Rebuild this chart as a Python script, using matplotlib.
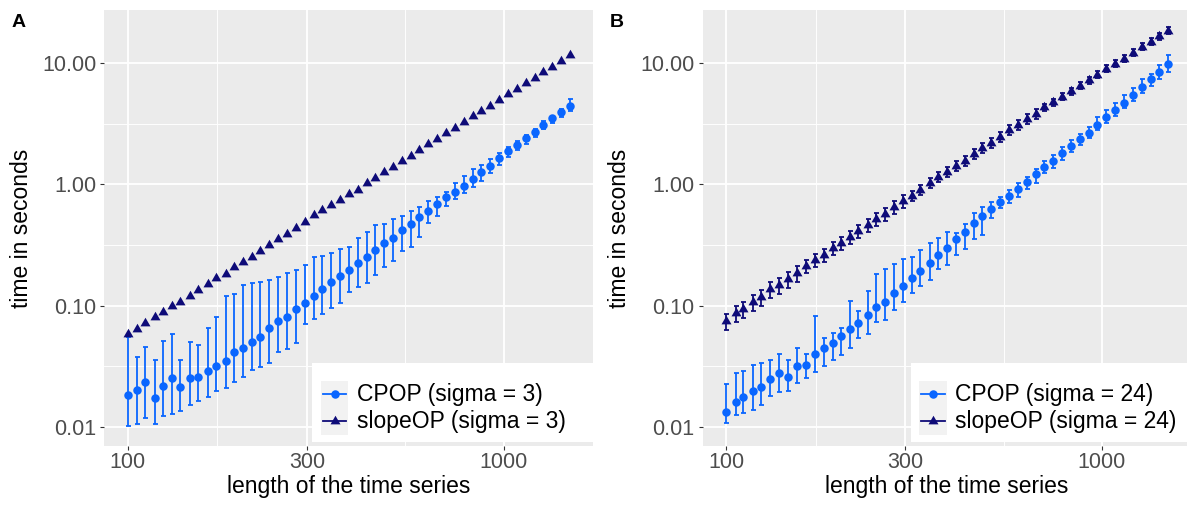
import matplotlib
matplotlib.use("Agg")
import matplotlib.pyplot as plt
from matplotlib.lines import Line2D
from matplotlib.patches import Rectangle
import matplotlib.ticker as mticker

plt.rcParams['font.family'] = ['Liberation Sans', 'DejaVu Sans']

# ---------------- data ----------------
x = [100, 106, 111, 118, 124, 131, 138, 146, 154, 163, 172, 182, 192, 202, 214, 225, 238, 251,
     265, 280, 296, 312, 329, 348, 367, 387, 409, 432, 456, 481, 508, 536, 566, 597, 631, 666,
     703, 742, 783, 827, 873, 922, 973, 1027, 1084, 1145, 1208, 1276, 1347, 1422, 1500]

a_slope = [0.0582, 0.0644, 0.0718, 0.0804, 0.0879, 0.0996, 0.108, 0.1205, 0.135, 0.151, 0.168,
           0.183, 0.208, 0.227, 0.250, 0.282, 0.316, 0.356, 0.389, 0.436, 0.489, 0.555, 0.616,
           0.674, 0.749, 0.835, 0.901, 1.023, 1.138, 1.261, 1.403, 1.572, 1.728, 1.926, 2.159,
           2.387, 2.645, 2.942, 3.279, 3.654, 4.042, 4.468, 4.981, 5.549, 6.171, 6.839, 7.606,
           8.426, 9.374, 10.44, 11.71]

a_cpop = [0.01827, 0.02009, 0.02324, 0.01735, 0.02167, 0.02537, 0.02138, 0.02522, 0.02556,
          0.02881, 0.03168, 0.03504, 0.04157, 0.04485, 0.04998, 0.05528, 0.06524, 0.07491,
          0.07993, 0.09357, 0.1059, 0.1198, 0.1368, 0.1563, 0.1761, 0.1963, 0.2229, 0.2527,
          0.2887, 0.3261, 0.3605, 0.4173, 0.4677, 0.5342, 0.6056, 0.6839, 0.7810, 0.8687,
          0.9737, 1.0997, 1.256, 1.424, 1.639, 1.883, 2.122, 2.396, 2.701, 3.103, 3.504, 3.972,
          4.452]
a_cpop_lo = [0.01013, 0.01053, 0.01187, 0.01053, 0.01226, 0.01273, 0.01355, 0.01510, 0.01629,
             0.01748, 0.01982, 0.02074, 0.02351, 0.02556, 0.02936, 0.03091, 0.03374, 0.04157,
             0.04401, 0.04932, 0.0710, 0.07693, 0.08555, 0.09627, 0.1054, 0.1292, 0.1413,
             0.1542, 0.1775, 0.2066, 0.2315, 0.2832, 0.3056, 0.3695, 0.4822, 0.5508, 0.6622,
             0.7521, 0.8427, 0.9445, 1.059, 1.232, 1.435, 1.689, 1.919, 2.150, 2.442, 2.843,
             3.186, 3.613, 4.049]
a_cpop_hi = [0.0553, 0.03737, 0.04571, 0.03551, 0.05124, 0.05786, 0.03551, 0.04998, 0.04694,
             0.06486, 0.08085, 0.1198, 0.1239, 0.1491, 0.1548, 0.1554, 0.1636, 0.1718, 0.1865,
             0.1974, 0.2146, 0.2513, 0.2561, 0.2727, 0.2909, 0.3056, 0.3626, 0.4040, 0.4588,
             0.4703, 0.5143, 0.5445, 0.5987, 0.6533, 0.7282, 0.7900, 0.8687, 1.031, 1.178,
             1.329, 1.443, 1.617, 1.803, 2.020, 2.289, 2.551, 2.843, 3.348, 3.681, 4.181, 5.055]

b_slope = [0.07448, 0.08623, 0.0941, 0.1069, 0.1182, 0.1360, 0.1476, 0.1645, 0.1843, 0.2118,
           0.2373, 0.2610, 0.2964, 0.3297, 0.3695, 0.4095, 0.4614, 0.5202, 0.5720, 0.6459,
           0.7282, 0.8052, 0.8974, 1.019, 1.142, 1.270, 1.416, 1.565, 1.768, 1.982, 2.192,
           2.470, 2.805, 3.085, 3.438, 3.802, 4.318, 4.749, 5.282, 5.886, 6.510, 7.254, 8.083,
           8.992, 9.961, 10.95, 12.18, 13.66, 15.02, 16.73, 18.51]
b_slope_lo = [0.0628, 0.0727, 0.0793, 0.0901, 0.0996, 0.1146, 0.1244, 0.1386, 0.1553, 0.1854,
              0.2077, 0.2285, 0.2594, 0.2886, 0.3234, 0.3584, 0.4039, 0.4553, 0.5007, 0.5654,
              0.6374, 0.7323, 0.8161, 0.9267, 1.0385, 1.1549, 1.2877, 1.4232, 1.6078, 1.8024,
              1.9934, 2.2462, 2.5509, 2.8055, 3.1265, 3.4575, 4.0404, 4.4436, 4.9424, 5.5075,
              6.0914, 6.7876, 7.5633, 8.4138, 9.3205, 10.246, 11.397, 12.782, 14.054, 15.654,
              17.320]
b_slope_hi = [0.0851, 0.0985, 0.1075, 0.1221, 0.1350, 0.1554, 0.1686, 0.1879, 0.2105, 0.2373,
              0.2659, 0.2925, 0.3322, 0.3695, 0.4141, 0.4589, 0.5170, 0.5829, 0.6410, 0.7238,
              0.8160, 0.8854, 0.9868, 1.1205, 1.2557, 1.3965, 1.5570, 1.7209, 1.9441, 2.1794,
              2.4103, 2.7160, 3.0844, 3.3922, 3.7804, 4.1807, 4.6146, 5.0753, 5.6449, 6.2904,
              6.9572, 7.7523, 8.6383, 9.6097, 10.645, 11.702, 13.017, 14.598, 16.052, 17.879,
              19.782]

b_cpop = [0.01330, 0.01590, 0.01748, 0.01970, 0.02138, 0.02474, 0.02789, 0.02586, 0.03168,
          0.03210, 0.04003, 0.04485, 0.04876, 0.05633, 0.06400, 0.07130, 0.08300, 0.09663,
          0.1063, 0.1261, 0.1462, 0.1677, 0.1937, 0.2263, 0.2610, 0.3010, 0.3517, 0.4063,
          0.4822, 0.5477, 0.6289, 0.7103, 0.8052, 0.9146, 1.051, 1.216, 1.381, 1.565, 1.803,
          2.070, 2.351, 2.666, 3.085, 3.571, 4.102, 4.713, 5.455, 6.314, 7.352, 8.492, 9.961]
b_cpop_lo = [0.01079, 0.01249, 0.01305, 0.01373, 0.01510, 0.01792, 0.01922, 0.01970, 0.02281,
             0.02537, 0.02843, 0.03168, 0.03551, 0.03904, 0.04434, 0.05362, 0.05820, 0.07349,
             0.07591, 0.09181, 0.1075, 0.1261, 0.1448, 0.1623, 0.1989, 0.2159, 0.2610, 0.2909,
             0.3517, 0.3816, 0.5241, 0.6337, 0.6969, 0.7900, 0.9094, 1.031, 1.232, 1.371,
             1.587, 1.837, 2.110, 2.396, 2.805, 3.186, 3.660, 4.238, 4.896, 5.634, 6.510,
             7.394, 8.492]
b_cpop_hi = [0.02238, 0.02758, 0.02865, 0.03229, 0.03374, 0.03551, 0.03979, 0.03551, 0.04485,
             0.03979, 0.08237, 0.05394, 0.05897, 0.06524, 0.1089, 0.09007, 0.1325, 0.1819,
             0.2001, 0.2200, 0.2405, 0.2527, 0.2870, 0.3261, 0.3584, 0.4063, 0.3987, 0.4677,
             0.5830, 0.6459, 0.7185, 0.7900, 0.8974, 1.019, 1.155, 1.329, 1.565, 1.745, 2.020,
             2.320, 2.585, 2.953, 3.571, 4.102, 4.659, 5.455, 6.195, 7.352, 8.238, 9.775, 11.67]

x_ticks = [100, 300, 1000]
x_ticklabels = ['100', '300', '1000']
x_minor = [173.2, 547.7]
y_ticks = [0.01, 0.1, 1, 10]
y_ticklabels = ['0.01', '0.10', '1.00', '10.00']
y_minor = [0.0316, 0.316, 3.16]

panels = [
    dict(tag='A', sigma='3', cpop=a_cpop, lo=a_cpop_lo, hi=a_cpop_hi,
         slope=a_slope, slo=None, shi=None),
    dict(tag='B', sigma='24', cpop=b_cpop, lo=b_cpop_lo, hi=b_cpop_hi,
         slope=b_slope, slo=b_slope_lo, shi=b_slope_hi),
]

# ---------------- style ----------------
W, H = 1187, 505
C_CPOP = '#0A66FF'
C_SLOPE = '#0E0B78'
PANEL_BG = '#EBEBEB'
MS_CIRC = 6.1
MS_TRI = 8.3
ELW = 1.3

fig = plt.figure(figsize=(W / 100, H / 100), dpi=100)
fig.patch.set_facecolor('white')


def fx(px):
    return px / W


def fy(py):
    return 1 - py / H


tri = [(0, 1), (-0.866, -0.5), (0.866, -0.5)]

panel_left = [104.3, 702.6]
panel_w = 489
panel_top, panel_bot = 10, 446

for i, p in enumerate(panels):
    L = panel_left[i]
    ax = fig.add_axes([fx(L), fy(panel_bot), panel_w / W, (panel_bot - panel_top) / H])
    ax.set_facecolor(PANEL_BG)
    ax.set_xscale('log')
    ax.set_yscale('log')
    ax.set_xlim(10 ** 1.9375, 10 ** 3.2385)
    ax.set_ylim(10 ** -2.159, 10 ** 1.44)
    for s in ax.spines.values():
        s.set_visible(False)

    ax.xaxis.set_major_locator(mticker.FixedLocator(x_ticks))
    ax.xaxis.set_major_formatter(mticker.FixedFormatter(x_ticklabels))
    ax.xaxis.set_minor_locator(mticker.FixedLocator(x_minor))
    ax.xaxis.set_minor_formatter(mticker.NullFormatter())
    ax.yaxis.set_major_locator(mticker.FixedLocator(y_ticks))
    ax.yaxis.set_major_formatter(mticker.FixedFormatter(y_ticklabels))
    ax.yaxis.set_minor_locator(mticker.FixedLocator(y_minor))
    ax.yaxis.set_minor_formatter(mticker.NullFormatter())

    ax.tick_params(which='major', length=2.75, width=0.8, color='#333333',
                   labelcolor='#4D4D4D', labelsize=15.5)
    ax.tick_params(axis='x', which='major', pad=1.5)
    ax.tick_params(axis='y', which='major', pad=3.0)
    ax.tick_params(which='minor', length=0)
    ax.grid(which='major', color='white', lw=1.3)
    ax.grid(which='minor', color='white', lw=0.65)
    ax.set_axisbelow(True)

    # CPOP
    yerr = [[c - l for c, l in zip(p['cpop'], p['lo'])],
            [h - c for c, h in zip(p['cpop'], p['hi'])]]
    ax.errorbar(x, p['cpop'], yerr=yerr, fmt='none', ecolor=C_CPOP, elinewidth=ELW,
                capsize=1.8, capthick=ELW, zorder=3)
    ax.plot(x, p['cpop'], 'o', color=C_CPOP, ms=MS_CIRC, mec='none', zorder=4)

    # slopeOP
    if p['slo'] is not None:
        yerr2 = [[c - l for c, l in zip(p['slope'], p['slo'])],
                 [h - c for c, h in zip(p['slope'], p['shi'])]]
        ax.errorbar(x, p['slope'], yerr=yerr2, fmt='none', ecolor=C_SLOPE, elinewidth=ELW,
                    capsize=1.8, capthick=ELW, zorder=5)
    ax.plot(x, p['slope'], linestyle='none', marker=tri, color=C_SLOPE, ms=MS_TRI,
            mec='none', zorder=6)

    # texts
    off = L - 104.3
    fig.text(fx(11.5 + off), fy(26.7), p['tag'], fontsize=14,
             fontweight='bold', ha='left', va='baseline')
    fig.text(fx(L - 83), fy((panel_top + panel_bot) / 2), 'time in seconds', rotation=90,
             fontsize=16.5, ha='center', va='center')
    fig.text(fx(L + panel_w / 2), fy(492.5), 'length of the time series', fontsize=16.5,
             ha='center', va='baseline')

    # legend (ggplot style)
    bx0, bx1 = L + 208, L + 489
    by0, by1 = 362.7, 441.7
    fig.add_artist(Rectangle((fx(bx0), fy(by1)), (bx1 - bx0) / W, (by1 - by0) / H,
                             transform=fig.transFigure, fc='white', ec='none', zorder=10))
    kx0, kx1 = bx0 + 8.5, bx0 + 36
    ky0, kmid, ky1 = 380.7, 407.8, 435
    fig.add_artist(Rectangle((fx(kx0), fy(ky1)), (kx1 - kx0) / W, (ky1 - ky0) / H,
                             transform=fig.transFigure, fc='#F2F2F2', ec='none', zorder=11))
    rows = [((ky0 + kmid) / 2, C_CPOP, 'o', MS_CIRC, 'CPOP (sigma = %s)' % p['sigma']),
            ((kmid + ky1) / 2, C_SLOPE, tri, MS_TRI, 'slopeOP (sigma = %s)' % p['sigma'])]
    for yc, col, mk, ms, lab in rows:
        fig.add_artist(Line2D([fx(kx0 + 2), fx(kx1 - 2)], [fy(yc), fy(yc)],
                              transform=fig.transFigure, color=col, lw=ELW, zorder=12))
        fig.add_artist(Line2D([fx((kx0 + kx1) / 2)], [fy(yc)], transform=fig.transFigure,
                              color=col, marker=mk, ms=ms, mec='none', ls='none', zorder=13))
        fig.text(fx(bx0 + 44.5), fy(yc), lab, fontsize=16.5, ha='left', va='center',
                 zorder=14)

fig.savefig('out.png', dpi=100, facecolor='white')
